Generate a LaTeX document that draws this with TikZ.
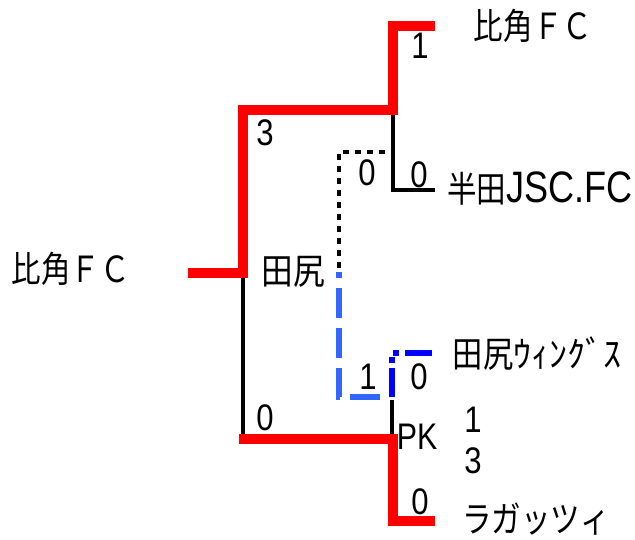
\documentclass[tikz,border=0pt]{standalone}
\usepackage{fontspec}
\usepackage{graphicx}
\setmainfont{Liberation Sans}
\newfontfamily\jp{Noto Sans CJK JP}
\definecolor{lblue}{HTML}{3366FF}
\definecolor{pblue}{HTML}{0000FF}
\newcommand\sx[2][0.84]{\scalebox{#1}[1]{#2}}
\tikzset{
  redl/.style={draw=red, line width=9.5pt, line join=miter},
  blk/.style={draw=black, line width=3.5pt},
  dotl/.style={draw=black, line width=4.5pt, dash pattern=on 6pt off 6pt},
  bluel/.style={draw=lblue, line width=6.5pt, dash pattern=on 30pt off 10pt, dash phase=24pt},
  bluedd/.style={draw=pblue, line width=6pt, dash pattern=on 29pt off 5pt on 6pt off 5pt on 6pt off 6pt},
  score/.style={font=\fontsize{37}{37}\selectfont, inner sep=0pt},
  team/.style={font=\jp\fontsize{36}{36}\selectfont, inner sep=0pt},
}
\begin{document}
\begin{tikzpicture}[x=1pt,y=-1pt]
\useasboundingbox (0,0) rectangle (635,539);
% corner coordinates
\coordinate (root) at (188,273);
\coordinate (r1) at (243,273);
\coordinate (r2) at (243,110);
\coordinate (r3) at (393,110);
\coordinate (r4) at (393,26);
\coordinate (r5) at (435,26);
\coordinate (b1) at (393,190);
\coordinate (b2) at (435,190);
\coordinate (l1) at (243,439);
\coordinate (l0) at (239,439);
\coordinate (l2) at (393,439);
\coordinate (l3) at (393,521);
\coordinate (l4) at (435,521);
\coordinate (d0) at (339,268);
\coordinate (d1) at (339,152);
\coordinate (d2) at (386,152);
\coordinate (u0) at (339,272);
\coordinate (u1) at (339,397);
\coordinate (u2) at (389,397);
\coordinate (v0) at (392,397);
\coordinate (v1) at (392,353);
\coordinate (v2) at (432,353);
\coordinate (k0) at (392,400);
\coordinate (k1) at (392,439);
% black lines
\draw[blk] (r1) -- (l1);
\draw[blk] (r3) -- (b1) -- (b2);
\draw[blk] (k0) -- (k1);
% dotted / dashed
\draw[dotl] (d0) -- (d1) -- (d2);
\draw[bluel] (u0) -- (u1) -- (u2);
\draw[bluedd] (v0) -- (v1) -- (v2);
% red winners
\draw[redl] (root) -- (r1) -- (r2) -- (r3) -- (r4) -- (r5);
\draw[redl] (l0) -- (l2) -- (l3) -- (l4);
% scores
\node[score] (s1) at (420,46) {\sx{1}};
\node[score] (s2) at (419,175) {\sx{0}};
\node[score] (s3) at (367,173) {\sx{0}};
\node[score] (s4) at (265,133) {\sx{3}};
\node[score] (s5) at (265,418) {\sx{0}};
\node[score] (s6) at (368,377) {\sx{1}};
\node[score] (s7) at (419,377) {\sx{0}};
\node[score] (s8) at (420,502) {\sx{0}};
\node[score] (s9) at (473,420) {\sx{1}};
\node[score] (s10) at (473,461) {\sx{3}};
\node[score] (pk) at (417,437) {\sx[0.82]{PK}};
% teams
\node[team] (t0) at (71,269) {\sx[0.82]{比角ＦＣ}};
\node[team] (t1) at (533,26) {\sx[0.82]{比角ＦＣ}};
\node[team] (t2) at (540,189) {\sx[0.82]{半田{\fontspec{Liberation Sans}\fontsize{44}{44}\selectfont JSC.FC}}};
\node[team] (t3) at (293,272) {\sx[0.88]{田尻}};
\node[team] (t4) at (537,354) {\sx[0.84]{田尻}\sx[1.0]{ｳｨﾝｸﾞｽ}};
\node[team] (t5) at (536,519) {\sx[0.82]{ラガッツィ}};
\end{tikzpicture}
\end{document}
